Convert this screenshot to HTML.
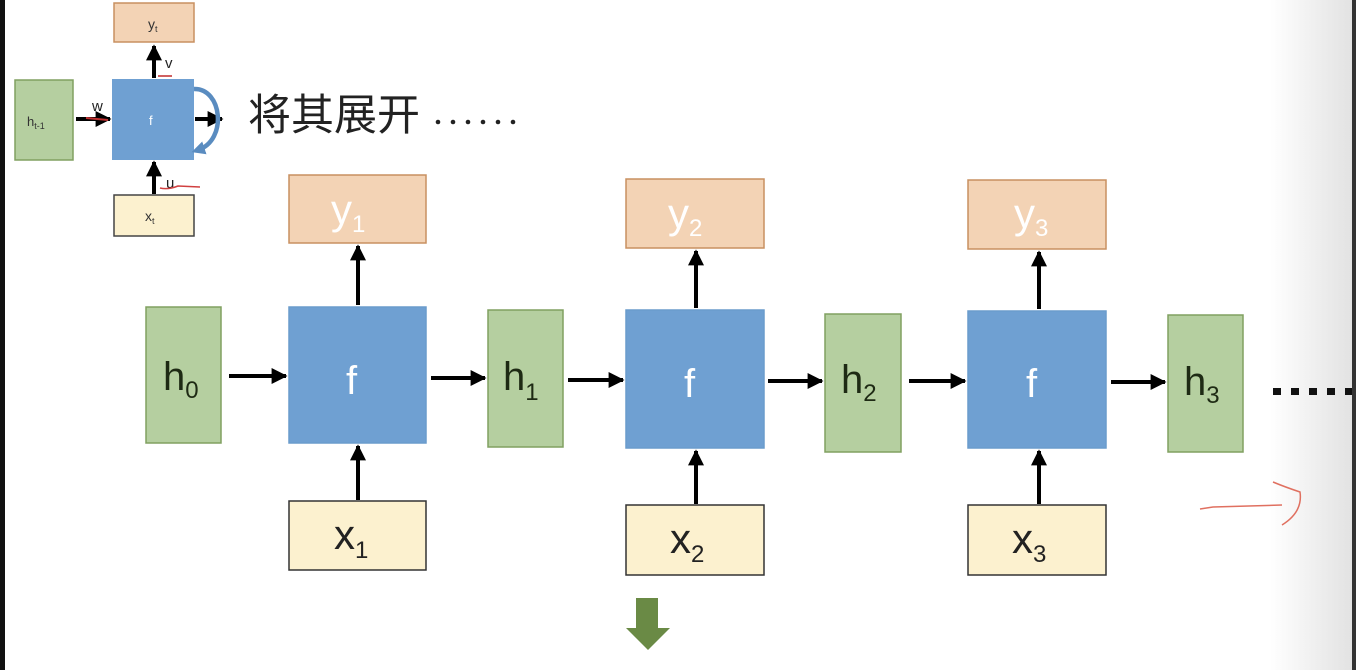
<!DOCTYPE html>
<html><head><meta charset="utf-8"><style>
html,body{margin:0;padding:0;background:#fff;}
svg{display:block;}
text{font-family:"Liberation Sans","Noto Sans CJK SC",sans-serif;}
</style></head><body>
<svg width="1356" height="670" viewBox="0 0 1356 670" xmlns="http://www.w3.org/2000/svg">
<defs>
<linearGradient id="rg" x1="0" x2="1" y1="0" y2="0">
<stop offset="0" stop-color="#ffffff"/><stop offset="1" stop-color="#e2e2e2"/>
</linearGradient>
<marker id="ah" viewBox="0 0 10 10" refX="9" refY="5" markerWidth="4" markerHeight="4" orient="auto" markerUnits="strokeWidth">
<path d="M0,0 L10,5 L0,10 z" fill="#000"/></marker>
<marker id="ahb" viewBox="0 0 10 10" refX="5" refY="5" markerWidth="3" markerHeight="3" orient="auto" markerUnits="strokeWidth">
<path d="M0,0 L10,5 L0,10 z" fill="#5a8cc0"/></marker>
</defs>
<rect x="0" y="0" width="1356" height="670" fill="#fff"/>
<rect x="1270" y="0" width="83" height="670" fill="url(#rg)"/>
<rect x="1352" y="0" width="4" height="670" fill="#333"/>
<rect x="0" y="0" width="5" height="670" fill="#111"/>

<!-- small diagram -->
<rect x="114" y="3" width="80" height="39" fill="#f3d3b5" stroke="#c89060" stroke-width="1.5"/>
<text x="148" y="29" font-size="14" fill="#333">y<tspan font-size="9" dy="3">t</tspan></text>
<rect x="15" y="80" width="58" height="80" fill="#b5cfa0" stroke="#80a060" stroke-width="1.5"/>
<text x="27" y="126" font-size="13" fill="#333">h<tspan font-size="9" dy="3">t-1</tspan></text>
<rect x="112" y="79" width="82" height="81" fill="#6fa0d2"/>
<text x="149" y="125" font-size="13" fill="#fff">f</text>
<rect x="114" y="195" width="80" height="41" fill="#fcf1cf" stroke="#444" stroke-width="1.5"/>
<text x="145" y="221" font-size="14" fill="#333">x<tspan font-size="9" dy="3">t</tspan></text>
<line x1="154" y1="78" x2="154" y2="46" stroke="#000" stroke-width="4" marker-end="url(#ah)"/>
<line x1="154" y1="194" x2="154" y2="162" stroke="#000" stroke-width="4" marker-end="url(#ah)"/>
<line x1="76" y1="119" x2="110" y2="119" stroke="#000" stroke-width="4" marker-end="url(#ah)"/>
<line x1="195" y1="119" x2="222" y2="119" stroke="#000" stroke-width="4" marker-end="url(#ah)"/>
<path d="M194,89 C222,88 228,140 198,150" fill="none" stroke="#5a8cc0" stroke-width="4.5" marker-end="url(#ahb)"/>
<text x="165" y="68" font-size="15" fill="#222">v</text>
<line x1="158" y1="76" x2="172" y2="76" stroke="#d06060" stroke-width="2"/>
<text x="92" y="111" font-size="15" fill="#222">w</text>
<line x1="86" y1="118" x2="108" y2="120" stroke="#c03030" stroke-width="2"/>
<text x="166" y="188" font-size="15" fill="#222">u</text>
<path d="M160,188 Q168,190 178,186 L200,187" fill="none" stroke="#d04040" stroke-width="1.5"/>
<text x="248" y="130" font-size="43" fill="#222">将其展开</text>
<g fill="#222"><circle cx="438" cy="122" r="2.3"/><circle cx="453" cy="122" r="2.3"/><circle cx="468" cy="122" r="2.3"/><circle cx="483" cy="122" r="2.3"/><circle cx="498" cy="122" r="2.3"/><circle cx="513" cy="122" r="2.3"/></g>

<!-- main diagram -->
<g stroke-width="1.5">
<rect x="146" y="307" width="75" height="136" fill="#b5cfa0" stroke="#80a060"/>
<rect x="488" y="310" width="75" height="137" fill="#b5cfa0" stroke="#80a060"/>
<rect x="825" y="314" width="76" height="138" fill="#b5cfa0" stroke="#80a060"/>
<rect x="1168" y="315" width="75" height="137" fill="#b5cfa0" stroke="#80a060"/>
<rect x="289" y="307" width="137" height="136" fill="#6fa0d2" stroke="#6a9ccc"/>
<rect x="626" y="310" width="138" height="138" fill="#6fa0d2" stroke="#6a9ccc"/>
<rect x="968" y="311" width="138" height="137" fill="#6fa0d2" stroke="#6a9ccc"/>
<rect x="289" y="175" width="137" height="68" fill="#f3d3b5" stroke="#c89060"/>
<rect x="626" y="179" width="138" height="69" fill="#f3d3b5" stroke="#c89060"/>
<rect x="968" y="180" width="138" height="69" fill="#f3d3b5" stroke="#c89060"/>
<rect x="289" y="501" width="137" height="69" fill="#fcf1cf" stroke="#333"/>
<rect x="626" y="505" width="138" height="70" fill="#fcf1cf" stroke="#333"/>
<rect x="968" y="505" width="138" height="70" fill="#fcf1cf" stroke="#333"/>
</g>
<g font-size="40" fill="#1e2a14">
<text x="163" y="390">h<tspan font-size="24" dy="8">0</tspan></text>
<text x="503" y="390">h<tspan font-size="24" dy="10">1</tspan></text>
<text x="841" y="393">h<tspan font-size="24" dy="8">2</tspan></text>
<text x="1184" y="395">h<tspan font-size="24" dy="8">3</tspan></text>
</g>
<g font-size="40" fill="#fff">
<text x="346" y="394">f</text><text x="684" y="397">f</text><text x="1026" y="397">f</text>
</g>
<g font-size="42" fill="#fff">
<text x="331" y="224">y<tspan font-size="24" dy="8">1</tspan></text>
<text x="668" y="228">y<tspan font-size="24" dy="8">2</tspan></text>
<text x="1014" y="228">y<tspan font-size="24" dy="8">3</tspan></text>
</g>
<g font-size="42" fill="#222">
<text x="334" y="549">x<tspan font-size="24" dy="9">1</tspan></text>
<text x="670" y="553">x<tspan font-size="24" dy="9">2</tspan></text>
<text x="1012" y="553">x<tspan font-size="24" dy="9">3</tspan></text>
</g>
<g stroke="#000" stroke-width="4" marker-end="url(#ah)">
<line x1="229" y1="376" x2="286" y2="376"/>
<line x1="431" y1="378" x2="485" y2="378"/>
<line x1="568" y1="380" x2="623" y2="380"/>
<line x1="768" y1="381" x2="822" y2="381"/>
<line x1="909" y1="381" x2="965" y2="381"/>
<line x1="1111" y1="382" x2="1165" y2="382"/>
<line x1="358" y1="305" x2="358" y2="246"/>
<line x1="696" y1="308" x2="696" y2="251"/>
<line x1="1039" y1="309" x2="1039" y2="252"/>
<line x1="358" y1="500" x2="358" y2="446"/>
<line x1="696" y1="504" x2="696" y2="451"/>
<line x1="1039" y1="504" x2="1039" y2="451"/>
</g>
<g fill="#111">
<rect x="1273" y="388" width="8" height="7"/><rect x="1291" y="388" width="8" height="7"/><rect x="1309" y="388" width="8" height="7"/><rect x="1327" y="388" width="8" height="7"/><rect x="1345" y="388" width="7" height="7"/>
</g>
<path d="M1200,509 L1213,507 L1282,505" fill="none" stroke="#e07060" stroke-width="1.5"/>
<path d="M1273,482 Q1285,487 1300,492 Q1303,512 1282,525" fill="none" stroke="#e07060" stroke-width="1.5"/>
<path d="M636,598 H658 V628 H670 L648,650 L626,628 H636 Z" fill="#6a8a45"/>
</svg>
</body></html>
